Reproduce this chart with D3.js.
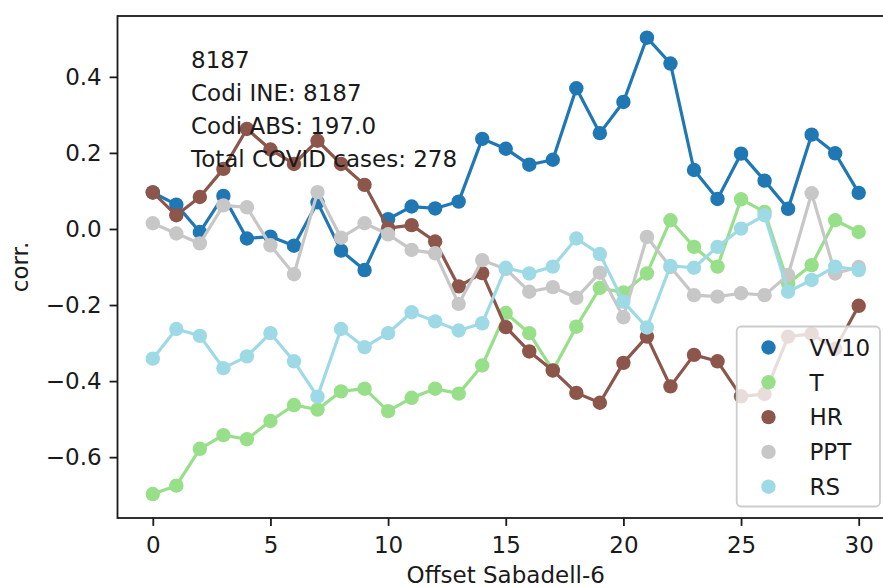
<!DOCTYPE html>
<html>
<head>
  <meta charset="utf-8">
  <style>
    body { margin: 0; background: #fff; }
    svg text { font-family: "DejaVu Sans", sans-serif; fill: #1a1a1a; }
  </style>
  <title>corr. vs Offset Sabadell-6</title>
</head>
<body>
  <script src="https://cdn.jsdelivr.net/npm/d3@7"></script>
  <script>
    // data
    var offsets = [0, 1, 2, 3, 4, 5, 6, 7, 8, 9, 10, 11, 12, 13, 14, 15, 16, 17, 18, 19, 20,
                   21, 22, 23, 24, 25, 26, 27, 28, 29, 30]
    var vv10 = [0.096, 0.064, -0.008, 0.087, -0.025, -0.020, -0.044, 0.070, -0.057, -0.108, 0.026,
                0.059, 0.054, 0.072, 0.237, 0.211, 0.169, 0.182, 0.370, 0.252, 0.334,
                0.503, 0.435, 0.155, 0.079, 0.198, 0.127, 0.053, 0.248, 0.199, 0.095]
    var t = [-0.697, -0.675, -0.578, -0.542, -0.553, -0.505, -0.463, -0.475, -0.427, -0.420, -0.479,
             -0.444, -0.420, -0.433, -0.359, -0.221, -0.274, -0.372, -0.257, -0.155, -0.167,
             -0.117, 0.023, -0.047, -0.099, 0.078, 0.045, -0.143, -0.095, 0.023, -0.008]
    var hr = [0.096, 0.036, 0.084, 0.158, 0.263, 0.209, 0.171, 0.232, 0.171, 0.116, 0.002,
              0.010, -0.033, -0.151, -0.116, -0.258, -0.322, -0.372, -0.431, -0.457, -0.352,
              -0.283, -0.414, -0.331, -0.348, -0.440, -0.434, -0.283, -0.276, -0.315, -0.202]
    var ppt = [0.015, -0.012, -0.038, 0.062, 0.057, -0.043, -0.119, 0.097, -0.023, 0.015, -0.014,
               -0.055, -0.064, -0.197, -0.082, -0.105, -0.165, -0.153, -0.181, -0.115, -0.232,
               -0.021, -0.100, -0.174, -0.178, -0.169, -0.174, -0.121, 0.094, -0.117, -0.100]
    var rs = [-0.341, -0.263, -0.281, -0.366, -0.335, -0.274, -0.348, -0.441, -0.263, -0.311, -0.274,
              -0.219, -0.243, -0.267, -0.248, -0.102, -0.117, -0.099, -0.025, -0.066, -0.191,
              -0.259, -0.097, -0.102, -0.047, 0.001, 0.036, -0.165, -0.134, -0.099, -0.108]

    var seriesNames = ["VV10", "T", "HR", "PPT", "RS"]
    var seriesValues = [vv10, t, hr, ppt, rs]
    var seriesColors = ["#1f77b4", "#98df8a", "#8c564b", "#c7c7c7", "#9edae5"]

    var xTicks = [0, 5, 10, 15, 20, 25, 30]
    var yTicks = [-0.6, -0.4, -0.2, 0.0, 0.2, 0.4]
    var infoLines = ["8187", "Codi INE: 8187", "Codi ABS: 197.0", "Total COVID cases: 278"]

    // dimensions
    var width = 883, height = 587
    var margin = {top: 16, left: 117.5, right: -11, bottom: 69}
    var fontSize = 23

    var svg = d3.select("body").append("svg")
      .attr("width", width)
      .attr("height", height)

    var x = d3.scaleLinear().domain([-1.5, 31.5]).range([margin.left, width - margin.right])
    var y = d3.scaleLinear().domain([-0.76, 0.56]).range([height - margin.bottom, margin.top])

    // axes
    var fmt = function (d) { return d3.format(".1f")(d).replace("-", "\u2212") }

    var xAxis = svg.append("g")
      .attr("transform", "translate(0," + y.range()[0] + ")")
      .call(d3.axisBottom(x).tickValues(xTicks).tickSize(7.9).tickPadding(7.9).tickFormat(d3.format("d")))
    var yAxis = svg.append("g")
      .attr("transform", "translate(" + x.range()[0] + ",0)")
      .call(d3.axisLeft(y).tickValues(yTicks).tickSize(7.9).tickPadding(7.9).tickFormat(fmt))

    ;[xAxis, yAxis].forEach(function (g) {
      g.select(".domain").remove()
      g.selectAll(".tick line").attr("stroke", "#1a1a1a").attr("stroke-width", 1.8)
      g.selectAll(".tick text")
        .attr("font-size", fontSize)
        .attr("font-family", "DejaVu Sans")
        .attr("fill", "#1a1a1a")
    })
    xAxis.selectAll(".tick text").attr("dy", null).attr("y", 34.5)

    // frame
    svg.append("rect")
      .attr("x", x.range()[0])
      .attr("y", y.range()[1])
      .attr("width", x.range()[1] - x.range()[0])
      .attr("height", y.range()[0] - y.range()[1])
      .attr("fill", "none")
      .attr("stroke", "#1a1a1a")
      .attr("stroke-width", 1.8)

    // lines + markers
    var line = d3.line()
      .x(function (d, i) { return x(offsets[i]) })
      .y(function (d) { return y(d) })

    seriesValues.forEach(function (vals, k) {
      var g = svg.append("g")
      g.append("path")
        .attr("d", line(vals))
        .attr("fill", "none")
        .attr("stroke", seriesColors[k])
        .attr("stroke-width", 3.2)
        .attr("stroke-linejoin", "round")
      g.selectAll("circle")
        .data(vals)
        .enter()
        .append("circle")
        .attr("cx", function (d, i) { return x(offsets[i]) })
        .attr("cy", function (d) { return y(d) })
        .attr("r", 7.2)
        .attr("fill", seriesColors[k])
    })

    // info text
    var info = svg.append("text")
      .attr("x", 191)
      .attr("y", 68)
      .attr("font-size", fontSize)
    info.selectAll("tspan")
      .data(infoLines)
      .enter()
      .append("tspan")
      .attr("x", 191)
      .attr("dy", function (d, i) { return i === 0 ? 0 : 32.9 })
      .text(function (d) { return d })

    // axis labels
    svg.append("text")
      .attr("text-anchor", "middle")
      .attr("x", (x.range()[0] + x.range()[1]) / 2)
      .attr("y", 583)
      .attr("font-size", fontSize)
      .text("Offset Sabadell-6")

    svg.append("text")
      .attr("text-anchor", "middle")
      .attr("transform", "translate(28," + ((y.range()[0] + y.range()[1]) / 2) + ") rotate(-90)")
      .attr("font-size", fontSize)
      .text("corr.")

    // legend
    var legend = svg.append("g")
    legend.append("rect")
      .attr("x", 736.7)
      .attr("y", 326.5)
      .attr("width", 143.3)
      .attr("height", 180)
      .attr("rx", 4.5)
      .attr("fill", "#fff")
      .attr("fill-opacity", 0.8)
      .attr("stroke", "#cccccc")
      .attr("stroke-width", 1.8)

    seriesNames.forEach(function (name, k) {
      var cy = 347.5 + k * 34.8
      legend.append("circle")
        .attr("cx", 768.5)
        .attr("cy", cy)
        .attr("r", 7.2)
        .attr("fill", seriesColors[k])
      legend.append("text")
        .attr("x", 809.5)
        .attr("y", cy + 8.2)
        .attr("font-size", fontSize)
        .text(name)
    })
  </script>
</body>
</html>
